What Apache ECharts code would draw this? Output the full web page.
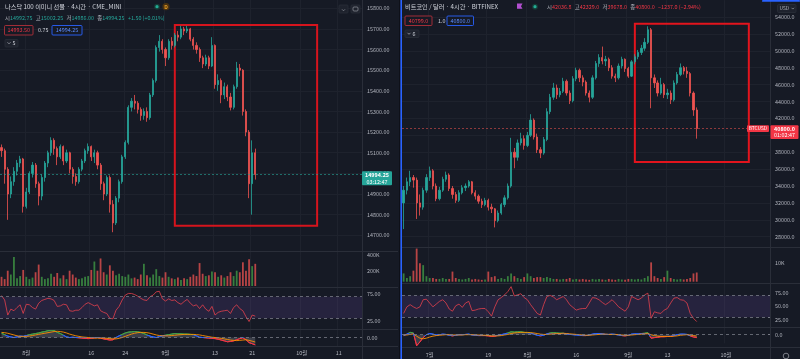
<!DOCTYPE html>
<html><head><meta charset="utf-8">
<script src="https://cdn.jsdelivr.net/npm/echarts@6.0.0/dist/echarts.min.js"></script>
<style>html,body{margin:0;padding:0;background:#161a25;overflow:hidden}#c{width:800px;height:359px}</style>
</head><body><div id="c"></div>
<script>
// ---------------- NASDAQ 100 E-mini (left) ----------------
const nqTickIndex = [8, 29, 40, 53, 69, 81, 97, 109];
const nqTickLabels = ['8월', '16', '24', '9월', '13', '21', '10월', '11'];
const nqSlots = 117;
// [open, close, low, high]
const nqOHLC = [
[15125,15110,15080,15140],[15110,15020,14950,15120],[15020,14900,14775,15030],[14900,14960,14880,14985],
[14960,15010,14940,15030],[15010,15050,14990,15065],[15050,15070,15030,15085],[15070,14840,14810,15075],
[14840,14910,14830,14930],[14910,15000,14900,15010],[15000,15040,14980,15055],[15040,14950,14930,15050],
[14950,14890,14845,14960],[14890,14980,14870,14995],[14980,15050,14960,15060],[15050,15100,15030,15110],
[15100,15160,15085,15175],[15160,15120,15090,15170],[15120,15080,15040,15130],[15080,15130,15070,15140],
[15130,15060,15040,15135],[15060,15100,15050,15115],[15100,15020,15000,15105],[15020,14985,14950,15030],
[14985,14960,14940,15000],[14960,15020,14950,15030],[15020,15060,15010,15070],[15060,15110,15050,15120],
[15110,15130,15095,15145],[15130,15080,15060,15135],[15080,15100,15050,15115],[15100,15040,15020,15110],
[15040,14950,14920,15050],[14950,14900,14870,14960],[14900,14980,14890,14990],[14980,14850,14810,14990],
[14850,14760,14715,14870],[14760,14880,14750,14890],[14880,14960,14860,14970],[14960,15080,14950,15090],
[15080,15150,15070,15160],[15150,15320,15140,15330],[15320,15350,15300,15365],[15350,15340,15310,15380],
[15340,15310,15290,15350],[15310,15280,15255,15320],[15280,15300,15260,15315],[15300,15270,15250,15320],
[15270,15380,15260,15390],[15380,15450,15370,15460],[15450,15610,15440,15620],[15610,15640,15590,15670],
[15640,15600,15580,15650],[15600,15560,15520,15610],[15560,15640,15550,15650],[15640,15620,15600,15660],
[15620,15670,15610,15680],[15670,15660,15640,15690],[15660,15700,15650,15715],[15700,15690,15670,15710],
[15690,15700,15680,15715],[15700,15650,15640,15705],[15650,15620,15600,15660],[15620,15600,15580,15635],
[15600,15560,15540,15610],[15560,15530,15510,15570],[15530,15560,15520,15575],[15560,15520,15505,15570],
[15520,15620,15515,15660],[15620,15430,15410,15625],[15430,15450,15400,15480],[15450,15380,15340,15460],
[15380,15420,15360,15440],[15420,15370,15350,15430],[15370,15320,15305,15390],[15320,15420,15310,15430],
[15420,15510,15410,15540],[15510,15500,15470,15530],[15500,15300,15280,15505],[15300,15200,15180,15310],
[15200,14950,14880,15210],[14950,15100,14800,15160],[15100,14994.25,14970,15120]
];
const nqVolumeK = [120,90,200,150,380,100,130,210,120,90,110,180,280,120,90,100,160,120,170,100,
140,90,200,150,110,90,100,120,130,210,320,200,360,180,150,270,200,140,160,130,
120,150,100,110,90,150,290,140,110,150,220,130,110,180,120,100,90,110,80,100,
90,120,150,130,300,160,130,140,190,180,120,140,110,130,180,130,200,180,310,200,
350,260,290];
const nqRSI = [72,64,36,47,44,50,55,39,56,55,50,47,58,63,65,67,66,63,52,53,56,55,44,43,45,45,50,56,59,56,
53,55,44,41,39,30,29,45,52,64,73,76,76,74,71,67,64,63,70,73,79,80,66,62,66,63,64,59,56,61,
65,58,53,55,48,55,47,43,52,36,41,43,44,45,39,50,55,48,44,33,24,36,34];
const nqMACD = [15,10,5,2,0,2,5,4,7,10,12,14,16,19,21,24,26,25,18,14,8,2,0,1,0,-1,-2,-3,-4,-3,
-1,0,-2,-5,-7,-9,-8,0,6,11,16,19,20,21,20,18,14,9,5,2,0,3,6,8,10,12,14,13,13,12,
12,11,10,6,1,0,-1,-2,-3,-4,-6,-9,-12,-15,-14,-12,-8,-4,-1,-8,-18,-22,-26];
const nqSignal = [18,17,15,12,9,6,4,4,4,5,7,9,11,13,15,17,19,21,22,21,19,16,12,9,6,4,2,1,0,-1,
-2,-2,-2,-2,-3,-4,-5,-5,-3,0,4,8,12,15,17,18,18,17,15,12,9,7,6,6,6,7,8,9,10,11,
11,11,11,10,9,7,5,3,1,0,-1,-3,-5,-7,-9,-10,-11,-10,-9,-8,-10,-13,-16];
const nqLast = 14994.25, nqCountdown = '03:12:47';
const nqHighlight = {from: 56, to: 102, top: 15719, bottom: 14746};

// ---------------- BTC / USD (right) ----------------
const btcTickIndex = [8, 26, 38, 53, 69, 81, 99];
const btcTickLabels = ['7월', '19', '8월', '16', '9월', '13', '10월'];
const btcSlots = 113;
const btcOHLC = [
[32000,33500,28900,34000],[33500,34500,33000,35000],[34500,35000,34000,35800],[35000,34700,33800,35300],
[34700,32000,30100,35000],[32000,31500,30500,33000],[31500,33500,31200,33800],[33500,35000,33200,35400],
[35000,35800,34600,36300],[35800,34000,33600,36000],[34000,32500,32200,34300],[32500,33500,32300,33900],
[33500,34800,33300,35100],[34800,35300,34500,35700],[35300,33700,33400,35500],[33700,33000,32500,34000],
[33000,32300,32000,33300],[32300,33200,32100,33500],[33200,33800,33000,34100],[33800,34000,33400,34300],
[34000,34500,33800,34700],[34500,33200,33000,34600],[33200,32800,32400,33500],[32800,32200,31900,33000],
[32200,31800,31400,32500],[31800,32300,31600,32600],[32300,31500,31100,32500],[31500,31300,30800,31900],
[31300,29900,29100,31400],[29900,30800,29700,31100],[30800,31800,30600,32000],[31800,32600,31500,32900],
[32600,34000,32400,34300],[34000,38000,33800,39700],[38000,37400,36100,38500],[37400,39100,37000,39500],
[39100,39600,38800,40300],[39600,38800,38300,40000],[38800,40000,38600,40400],[40000,41800,39800,42500],
[41800,39800,39500,42000],[39800,38300,37900,40200],[38300,37900,37300,38600],[37900,39500,37700,39800],
[39500,42800,39300,43200],[42800,44500,42500,44900],[44500,45600,44200,46200],[45600,44800,44300,46000],
[44800,45200,44500,45600],[45200,46400,45000,46800],[46400,45000,44700,46600],[45000,44100,43700,45300],
[44100,46700,43900,47000],[46700,47700,46400,48000],[47700,46800,46300,47900],[46800,46300,45800,47100],
[46300,45000,44700,46500],[45000,44500,43900,45300],[44500,46800,44300,47100],[46800,48500,46600,48800],
[48500,49200,48100,49600],[49200,48800,48400,50500],[48800,49000,48200,49400],[49000,48000,47600,49200],
[48000,47000,46700,48300],[47000,46800,46300,47300],[46800,48200,46600,48500],[48200,49000,47900,49300],
[49000,47900,47500,49100],[47900,47000,46800,48100],[47000,48700,46900,48900],[48700,49300,48400,49600],
[49300,49800,49000,50100],[49800,50300,49500,50700],[50300,51000,50000,51500],[51000,52500,50800,52900],
[52500,46800,43200,52700],[46800,46200,45600,47200],[46200,45000,44600,46500],[45000,46000,44800,46800],
[46000,44800,44400,46200],[44800,45000,44300,45500],[45000,44200,43700,45300],[44200,46200,44000,46500],
[46200,47200,46000,47500],[47200,48000,47000,48500],[48000,47600,47200,48200],[47600,47300,46800,48100],
[47300,45000,44600,47500],[45000,43000,42300,45200],[43000,40800,39600,43300]
];
const btcVolumeK = [4.5,2,3,6,18,10,9,3,2,2,1.5,1.5,2,1.5,1.5,5.5,2,1.5,1.2,1.5,
2,1.2,1.5,1.2,1,1.2,5.5,2.5,3,1.5,2,1.5,3,4.5,3,2,1.5,2.5,4.5,3,
2,2.5,2.5,2,2.5,2,1.5,1.5,1.2,1.5,1.5,2,1.2,1.5,1.2,1.5,1.2,1,1.5,1.2,
1.5,1.2,1,1.5,1.2,1,1.5,1.2,1,1.5,1.5,1.2,1.5,1.2,2,3,10.5,3,2,1.5,
2.5,6,2,1.5,1.2,1.5,1.2,1.5,2,4.5,5];
const btcRSI = [37,49,53,49,46,49,62,63,56,49,54,59,62,56,45,41,51,54,48,56,59,42,43,45,46,46,40,32,49,62,
66,71,77,86,69,71,73,66,62,53,45,37,34,53,68,70,67,62,65,68,62,53,48,43,45,46,46,56,66,65,
62,57,53,57,62,56,49,45,41,49,68,65,62,65,71,74,28,40,38,37,43,46,56,65,66,62,61,56,37,28,22];
const btcMACD = [-3,2,8,6,-38,-25,-10,0,4,2,-1,0,2,1,-2,-4,-2,0,0,1,2,-1,-2,-3,-3,-3,-4,-6,-5,-2,
0,3,6,10,9,10,10,8,7,6,2,-2,-4,-2,3,6,7,6,5,5,3,1,0,-1,-2,-3,-3,-1,2,4,
4,3,1,1,2,1,-1,-3,-4,-2,2,3,3,4,5,7,-12,-10,-9,-7,-7,-6,-6,-3,0,2,2,1,-4,-8,-10];
const btcSignal = [-1,-1,1,3,-5,-12,-14,-12,-8,-5,-3,-2,-1,0,0,-1,-1,-1,-1,0,0,0,-1,-1,-2,-2,-3,-4,-4,-4,
-3,-1,1,4,6,7,8,8,8,7,6,4,2,1,1,2,3,4,4,5,4,3,2,1,0,-1,-2,-2,-1,0,
1,2,2,1,1,1,0,-1,-2,-2,-1,0,1,2,3,4,0,-3,-5,-6,-6,-6,-6,-5,-4,-2,-1,0,-1,-3,-5];
const btcLast = 40800, btcCountdown = '01:02:47';
const btcHighlight = {from: 71, to: 106, top: 53200, bottom: 36850};

// ---------------- chart ----------------
const FONT = '"Noto Sans CJK KR","Noto Sans",sans-serif';
const AX = '#b2b5be', GRIDC = '#1e222d', SEP = '#2a2e39';
const UP = '#26a69a', DN = '#ef5350';
const FS = 5.4;

function cats(n){ return Array.from({length:n}, (_, i) => 'c' + i); }
function mapOf(idx, txt){ const m = {}; idx.forEach((k, i) => m[k] = txt[i]); return m; }
const nqMap = mapOf(nqTickIndex, nqTickLabels);
const btcMap = mapOf(btcTickIndex, btcTickLabels);

function xAx(gi, n, map, show, margin){
  return {type:'category', gridIndex:gi, data:cats(n), boundaryGap:true,
    axisLine:{show:false}, axisTick:{show:false},
    axisLabel:{show:show, interval:(i)=>map[i]!==undefined, formatter:(v,i)=>map[i]||'',
      color:AX, fontSize:FS, fontFamily:FONT, margin:margin||4},
    splitLine:{show:true, interval:(i)=>map[i]!==undefined, lineStyle:{color:GRIDC, width:1}}};
}
function yAx(gi, min, max, interval, fmt, split, showMax){
  return {type:'value', gridIndex:gi, position:'right', min, max, interval,
    axisLine:{show:false}, axisTick:{show:false},
    axisLabel:{color:AX, fontSize:FS, fontFamily:FONT, margin:5, formatter:fmt, showMinLabel:false, showMaxLabel:!!showMax},
    splitLine:{show:!!split, showMinLine:false, showMaxLine:false, lineStyle:{color:GRIDC, width:1}}};
}
function volData(v, ohlc){
  return v.map((x, i) => ({value:x, itemStyle:{color: ohlc[i][1] >= ohlc[i][0] ? 'rgba(67,160,71,0.75)' : 'rgba(239,83,80,0.75)'}}));
}
const dashed = {color:'#787b86', type:[3,3], width:0.8};

const option = {
  backgroundColor:'#161a25', animation:false, textStyle:{fontFamily:FONT},
  grid:[
    {left:0, width:362, top:0, height:255.94},
    {left:0, width:362, top:255.4, height:30.6},
    {left:0, width:362, top:280.5, height:54},
    {left:0, width:362, top:329, height:17},
    {left:402, width:368, top:0.1, height:253.5},
    {left:402, width:368, top:244.9, height:36.8},
    {left:402, width:368, top:279, height:54.6},
    {left:402, width:368, top:326, height:17.4}
  ],
  xAxis:[
    xAx(0, nqSlots, nqMap, false), xAx(1, nqSlots, nqMap, false), xAx(2, nqSlots, nqMap, false), xAx(3, nqSlots, nqMap, true, 4),
    xAx(4, btcSlots, btcMap, false), xAx(5, btcSlots, btcMap, false), xAx(6, btcSlots, btcMap, false), xAx(7, btcSlots, btcMap, true, 9)
  ],
  yAxis:[
    yAx(0, 14600, 15840, 100, v=>v.toFixed(2), true),
    yAx(1, 0, 400, 200, v=>v+'K', false, true),
    yAx(2, 0, 100, 25, v=>(v===25||v===75)?v.toFixed(2):'', false),
    yAx(3, -30, 30, 30, v=>v===0?'0.00':'', false),
    yAx(4, 26000, 56000, 2000, v=>v.toFixed(1), true),
    yAx(5, 0, 20, 10, v=>v+'K', false),
    yAx(6, 0, 100, 25, v=>(v===25||v===50||v===75)?v.toFixed(2):'', false),
    yAx(7, -30, 30, 30, v=>v===0?'0.0':'', false)
  ],
  visualMap:[
    {show:false, type:'piecewise', seriesIndex:4, pieces:[{lt:-3,color:'#f23645'},{gte:-3,lt:10,color:'#2962ff'},{gte:10,color:'#43a047'}]},
    {show:false, type:'piecewise', seriesIndex:10, pieces:[{lt:-3,color:'#f23645'},{gte:-3,lt:6,color:'#2962ff'},{gte:6,color:'#43a047'}]}
  ],
  series:[
    {type:'candlestick', xAxisIndex:0, yAxisIndex:0, data:nqOHLC, barWidth:1.6,
      itemStyle:{color:UP, color0:DN, borderColor:UP, borderColor0:DN, borderWidth:0.8},
      markLine:{silent:true, symbol:['none','none'], label:{show:false}, lineStyle:{color:UP, type:[2,2], width:1, opacity:0.6}, data:[{yAxis:nqLast}]},
      markArea:{silent:true, itemStyle:{color:'rgba(0,0,0,0)', borderColor:'#d6141d', borderWidth:2},
        data:[[{xAxis:nqHighlight.from, yAxis:nqHighlight.top},{xAxis:nqHighlight.to, yAxis:nqHighlight.bottom}]]}},
    {type:'bar', xAxisIndex:1, yAxisIndex:1, data:volData(nqVolumeK, nqOHLC), barWidth:1.8},
    {type:'line', xAxisIndex:2, yAxisIndex:2, data:nqRSI, symbol:'none', lineStyle:{color:'#e5404d', width:0.8},
      markArea:{silent:true, itemStyle:{color:'rgba(126,87,194,0.16)'}, data:[[{yAxis:30},{yAxis:70}]]},
      markLine:{silent:true, symbol:['none','none'], label:{show:false}, lineStyle:dashed, data:[{yAxis:30},{yAxis:70}]}},
    {type:'line', xAxisIndex:3, yAxisIndex:3, data:nqMACD, symbol:'none', lineStyle:{width:0, opacity:0}, areaStyle:{color:'rgba(120,123,134,0.55)'}},
    {type:'line', xAxisIndex:3, yAxisIndex:3, data:nqMACD, symbol:'none', lineStyle:{width:1}},
    {type:'line', xAxisIndex:3, yAxisIndex:3, data:nqSignal, symbol:'none', lineStyle:{color:'#ff8f00', width:0.9},
      markLine:{silent:true, symbol:['none','none'], label:{show:false}, lineStyle:dashed, data:[{yAxis:0}]}},

    {type:'candlestick', xAxisIndex:4, yAxisIndex:4, data:btcOHLC, barWidth:1.8,
      itemStyle:{color:UP, color0:DN, borderColor:UP, borderColor0:DN, borderWidth:0.8},
      markLine:{silent:true, symbol:['none','none'], label:{show:false}, lineStyle:{color:DN, type:[2,2], width:1, opacity:0.55}, data:[{yAxis:btcLast}]},
      markArea:{silent:true, itemStyle:{color:'rgba(0,0,0,0)', borderColor:'#e3141d', borderWidth:2},
        data:[[{xAxis:btcHighlight.from, yAxis:btcHighlight.top},{xAxis:btcHighlight.to, yAxis:btcHighlight.bottom}]]}},
    {type:'bar', xAxisIndex:5, yAxisIndex:5, data:volData(btcVolumeK, btcOHLC), barWidth:1.8},
    {type:'line', xAxisIndex:6, yAxisIndex:6, data:btcRSI, symbol:'none', lineStyle:{color:'#e5404d', width:0.8},
      markArea:{silent:true, itemStyle:{color:'rgba(126,87,194,0.16)'}, data:[[{yAxis:30},{yAxis:70}]]},
      markLine:{silent:true, symbol:['none','none'], label:{show:false}, lineStyle:dashed, data:[{yAxis:30},{yAxis:70}]}},
    {type:'line', xAxisIndex:7, yAxisIndex:7, data:btcMACD, symbol:'none', clip:false, lineStyle:{width:0, opacity:0}, areaStyle:{color:'rgba(120,123,134,0.55)'}},
    {type:'line', xAxisIndex:7, yAxisIndex:7, data:btcMACD, symbol:'none', clip:false, lineStyle:{width:1}},
    {type:'line', xAxisIndex:7, yAxisIndex:7, data:btcSignal, symbol:'none', clip:false, lineStyle:{color:'#ff8f00', width:0.9},
      markLine:{silent:true, symbol:['none','none'], label:{show:false}, lineStyle:dashed, data:[{yAxis:0}]}}
  ]
};

const chart = echarts.init(document.getElementById('c'), null, {renderer:'canvas'});
chart.setOption(option);

// ---------- decorations (header, separators, price tags) ----------
const G = [];
function ln(x1,y1,x2,y2,c,w){ G.push({type:'line', silent:true, z:50, shape:{x1,y1,x2,y2}, style:{stroke:c, lineWidth:w||1}}); }
function tx(x,y,t,fill,size,align,bold){ G.push({type:'text', silent:true, z:60, x, y,
  style:{text:t, fill, font:(bold?'bold ':'')+size+'px '+FONT, verticalAlign:'middle', align:align||'left'}}); }
function rc(x,y,w,h,fill,stroke,lw){ G.push({type:'rect', silent:true, z:55, shape:{x,y,width:w,height:h,r:1}, style:{fill:fill||'none', stroke:stroke||'none', lineWidth:lw||0.8}}); }
function circ(cx,cy,r,fill,stroke){ G.push({type:'circle', silent:true, z:56, shape:{cx,cy,r}, style:{fill:fill||'none', stroke:stroke||'none', lineWidth:0.8}}); }
function rich(x,y,str,vColor){
  G.push({type:'text', silent:true, z:60, x, y, style:{text:str, verticalAlign:'middle', align:'left',
    rich:{l:{fill:'#b2b5be', fontSize:FS, fontFamily:FONT}, v:{fill:vColor, fontSize:FS, fontFamily:FONT}}}});
}
function chev(x,y){ G.push({type:'polyline', silent:true, z:60, shape:{points:[[x,y],[x+1.5,y+1.5],[x+3,y]]}, style:{stroke:'#b2b5be', lineWidth:0.7, fill:'none'}}); }

// separators
[251,287,329,346].forEach(y=>ln(0,y+0.5,398,y+0.5,SEP,1));
[247,283,327,347].forEach(y=>ln(402,y+0.5,800,y+0.5,SEP,1));
ln(362.5,0,362.5,359,SEP,1);
ln(770.5,0,770.5,359,SEP,1);
ln(399.5,0,399.5,359,'#0e1018',1);
ln(401.2,0,401.2,359,'#2962ff',1.6);
rc(762,0,38,1.8,'#2962ff');

// left header
tx(5,6.7,'나스닥 100 이미니 선물 · 4시간 · CME_MINI','#d1d4dc',6.2);
circ(157,6.7,3,'#173a36'); circ(157,6.7,1.6,'#22ab94');
circ(166,6.7,3.6,'#4a3212'); tx(166,6.9,'D','#f5a623',5,'center',true);
rich(5,18.3,'{l|시}{v|14992.75} {l|고}{v|15002.25} {l|저}{v|14986.00} {l|종}{v|14994.25} {v|+1.50 (+0.01%)}','#26a69a');
rc(4.5,25.5,28.5,9.5,'#161a25','#b0303a',0.9); tx(18.75,30.4,'14993.50','#f23645',FS,'center');
tx(38,30.4,'0.75','#d1d4dc',FS);
rc(52,25.5,30,9.5,'#161a25','#2962ff',0.9); tx(67,30.4,'14994.25','#5b8cff',FS,'center');
rc(5,39.5,13,7.5,'#1e222d','#2a2e39',0.8); chev(7.5,42.3); tx(12.5,43.3,'5','#d1d4dc',FS);
// left top-right buttons
rc(339,5,9,8,'#1e222d','#2a2e39',0.8); rc(351,5,9,8,'#1e222d','#2a2e39',0.8);
ln(343.5,6.8,343.5,10.5,'#9598a1',0.7);
G.push({type:'polyline', silent:true, z:60, shape:{points:[[342,9.3],[343.5,10.8],[345,9.3]]}, style:{stroke:'#9598a1', lineWidth:0.7, fill:'none'}});
rc(353,7,5,4,'none','#9598a1',0.7);

// right header
tx(405,6.7,'비트코인 / 달러 · 4시간 · BITFINEX','#d1d4dc',6.2);
G.push({type:'polygon', silent:true, z:60, shape:{points:[[517,3.6],[522.5,3.6],[521,6.2],[522.5,8.8],[517,8.8]]}, style:{fill:'#b24fd0'}});
circ(535,6.7,3,'#173a36'); circ(535,6.7,1.6,'#22ab94');
rich(547,6.7,'{l|시}{v|42036.8} {l|고}{v|42329.0} {l|저}{v|39678.0} {l|종}{v|40800.0} {v|−1237.0 (−2.94%)}','#f23645');
rc(405,16,27,9.5,'#161a25','#b0303a',0.9); tx(418.5,20.9,'40799.0','#f23645',FS,'center');
tx(438,20.9,'1.0','#d1d4dc',FS);
rc(447,16,26.5,9.5,'#161a25','#2962ff',0.9); tx(460.25,20.9,'40800.0','#5b8cff',FS,'center');
rc(405,30,14,7.5,'#1e222d','#2a2e39',0.8); chev(407.5,32.8); tx(412.5,33.8,'6','#d1d4dc',FS);
rc(777.5,4.5,18.5,8,'#1e222d','#2a2e39',0.8); tx(779.5,8.6,'USD','#b2b5be',4.8);
G.push({type:'polyline', silent:true, z:60, shape:{points:[[791.5,7.8],[792.8,9.1],[794.1,7.8]]}, style:{stroke:'#b2b5be', lineWidth:0.6, fill:'none'}});
circ(786,356,2.8,'none','#9598a1');

// last-price tags, positioned through the axes
const pyL = chart.convertToPixel({yAxisIndex:0}, nqLast);
rc(362,pyL-3.4,30,14.2,'#26a69a'); tx(377,pyL,nqLast.toFixed(2),'#ffffff',FS,'center',true);
tx(377,pyL+7,nqCountdown,'#ffffff',FS,'center');
const pyR = chart.convertToPixel({yAxisIndex:4}, btcLast);
rc(770.5,pyR-3.4,28,13.8,'#f23645'); tx(784.5,pyR,btcLast.toFixed(1),'#ffffff',FS,'center',true);
tx(784.5,pyR+6.8,btcCountdown,'#ffffff',FS,'center');
rc(747,pyR-3.2,22,6.6,'#f23645'); tx(758,pyR+0.1,'BTCUSD','#ffffff',4.8,'center');

chart.setOption({graphic:G});
</script></body></html>
